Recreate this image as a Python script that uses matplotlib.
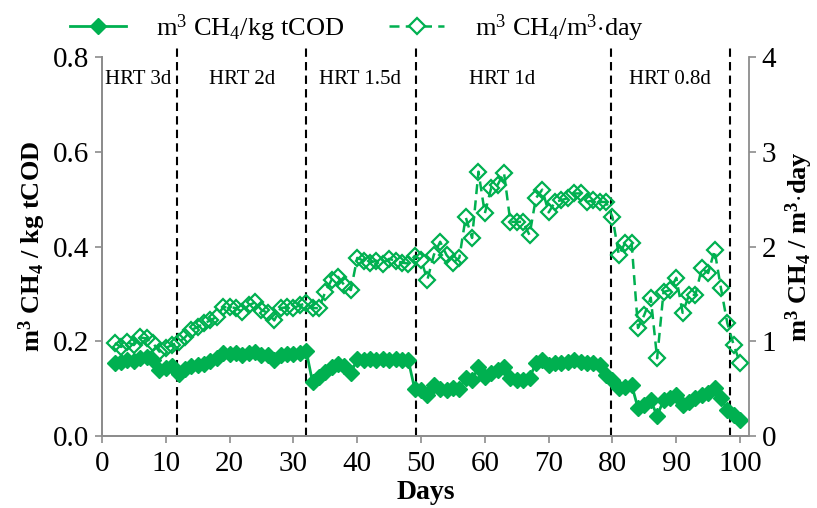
import matplotlib
matplotlib.use("Agg")
import matplotlib.pyplot as plt
from matplotlib.lines import Line2D

plt.rcParams['font.family'] = ['Liberation Serif', 'DejaVu Serif']
plt.rcParams['mathtext.fontset'] = 'custom'
plt.rcParams['mathtext.rm'] = 'Liberation Serif'
plt.rcParams['mathtext.bf'] = 'Liberation Serif:bold'
plt.rcParams['mathtext.it'] = 'Liberation Serif:italic'

# ---------------- data ----------------
days = list(range(2, 101))

yield_cod = [  # m3 CH4 / kg tCOD (left axis)
    0.155, 0.157, 0.160, 0.158, 0.165, 0.167, 0.160, 0.140, 0.143, 0.148,   # 2-11
    0.130, 0.142, 0.148, 0.150, 0.152, 0.158, 0.165, 0.175, 0.173, 0.175,   # 12-21
    0.172, 0.176, 0.178, 0.172, 0.170, 0.160, 0.172, 0.174, 0.173, 0.175,   # 22-31
    0.180, 0.114, 0.125, 0.135, 0.145, 0.152, 0.148, 0.133, 0.162, 0.160,   # 32-41
    0.162, 0.160, 0.162, 0.160, 0.162, 0.160, 0.160, 0.100, 0.097, 0.086,   # 42-51
    0.108, 0.100, 0.098, 0.101, 0.100, 0.122, 0.118, 0.146, 0.125, 0.133,   # 52-61
    0.139, 0.146, 0.122, 0.118, 0.118, 0.122, 0.154, 0.160, 0.150, 0.154,   # 62-71
    0.154, 0.156, 0.160, 0.156, 0.154, 0.154, 0.150, 0.129, 0.118, 0.101,   # 72-81
    0.103, 0.108, 0.059, 0.065, 0.076, 0.042, 0.076, 0.080, 0.087, 0.065,   # 82-91
    0.072, 0.080, 0.087, 0.091, 0.101, 0.080, 0.055, 0.044, 0.034,          # 92-100
]

rate = [  # m3 CH4 / m3.day (right axis)
    0.98, 0.94, 0.99, 0.96, 1.04, 1.03, 0.98, 0.89, 0.93, 0.96,   # 2-11
    0.99, 1.04, 1.12, 1.15, 1.19, 1.22, 1.26, 1.36, 1.36, 1.35,   # 12-21
    1.31, 1.38, 1.41, 1.33, 1.30, 1.22, 1.35, 1.36, 1.35, 1.38,   # 22-31
    1.40, 1.35, 1.35, 1.52, 1.65, 1.68, 1.59, 1.54, 1.88, 1.85,   # 32-41
    1.83, 1.85, 1.82, 1.87, 1.85, 1.83, 1.82, 1.90, 1.86, 1.65,   # 42-51
    1.91, 2.05, 1.91, 1.83, 1.88, 2.31, 2.09, 2.79, 2.35, 2.62,   # 52-61
    2.65, 2.78, 2.26, 2.26, 2.26, 2.12, 2.51, 2.60, 2.36, 2.47,   # 62-71
    2.49, 2.51, 2.56, 2.56, 2.47, 2.49, 2.47, 2.47, 2.31, 1.91,   # 72-81
    2.04, 2.04, 1.14, 1.28, 1.46, 0.82, 1.52, 1.54, 1.67, 1.30,   # 82-91
    1.49, 1.49, 1.77, 1.72, 1.96, 1.56, 1.19, 0.96, 0.77,         # 92-100
]

hrt_bounds = [11.8, 32.0, 49.2, 79.8, 98.4]
hrt_labels = ["HRT 3d", "HRT 2d", "HRT 1.5d", "HRT 1d", "HRT 0.8d"]
hrt_label_x = [5.6, 22.0, 40.4, 62.7, 89.0]

left_ticks = [0.0, 0.2, 0.4, 0.6, 0.8]
right_ticks = [0, 1, 2, 3, 4]
x_ticks = list(range(0, 101, 10))

GREEN = "#00B050"
GRAY = "#8c8c8c"

fig = plt.figure(figsize=(8.17, 5.08), dpi=100)
ax = fig.add_axes([0.1248, 0.1417, 0.7920, 0.7461])
ax2 = ax.twinx()

ax.plot(days, yield_cod, color=GREEN, lw=2.0, marker='D', ms=8.5,
        mfc=GREEN, mec=GREEN, zorder=3)
ax2.plot(days, rate, color=GREEN, lw=1.8, ls=(0, (4, 2.5)), marker='D', ms=8.3,
         mfc='none', mec=GREEN, mew=1.6, zorder=3)

for b in hrt_bounds:
    ax.plot([b, b], [0, 0.818], color='black', lw=1.5, ls=(0, (4, 2.5)),
            clip_on=False, zorder=2)
for lx, lab in zip(hrt_label_x, hrt_labels):
    ax.text(lx, 0.752, lab, ha='center', va='center', fontsize=15)

ax.set_xlim(0, 101.4)
ax.set_ylim(0, 0.8)
ax2.set_ylim(0, 4)
ax.set_xticks(x_ticks)
ax.set_yticks(left_ticks)
ax.set_yticklabels([f"{v:.1f}" for v in left_ticks])
ax2.set_yticks(right_ticks)

for a in (ax, ax2):
    for s in a.spines.values():
        s.set_color(GRAY)
        s.set_linewidth(1.3)
    a.spines['top'].set_visible(False)
    a.tick_params(axis='both', direction='out', length=5, width=1.2,
                  color=GRAY, labelsize=21, labelcolor='black', pad=4)
ax.spines['right'].set_visible(False)
ax.tick_params(axis='x', pad=6)

ax.set_xlabel("Days", fontsize=20, fontweight='bold', labelpad=2)
ax.set_ylabel(r"m$^{\mathbf{3}}$ CH$_{\mathbf{4}}$ / kg tCOD", fontsize=19,
              fontweight='bold', labelpad=4)
ax2.set_ylabel(r"m$^{\mathbf{3}}$ CH$_{\mathbf{4}}$ / m$^{\mathbf{3}}$$\cdot$day",
               fontsize=19, fontweight='bold', labelpad=5)

h1 = Line2D([], [], color=GREEN, lw=2.0, marker='D', ms=8.5, mfc=GREEN, mec=GREEN)
h2 = Line2D([], [], color=GREEN, lw=1.8, ls=(0, (4, 2.5)), marker='D', ms=8.3,
            mfc='white', mec=GREEN, mew=1.6)
fig.legend([h1, h2], [r"m$^3$ CH$_4$/kg tCOD", r"m$^3$ CH$_4$/m$^3$$\cdot$day"],
           loc='center', bbox_to_anchor=(0.437, 0.945), ncol=2, frameon=False,
           fontsize=19, handlelength=2.1, handletextpad=1.15, columnspacing=1.7,
           numpoints=1)

fig.savefig("out.png", dpi=100)
